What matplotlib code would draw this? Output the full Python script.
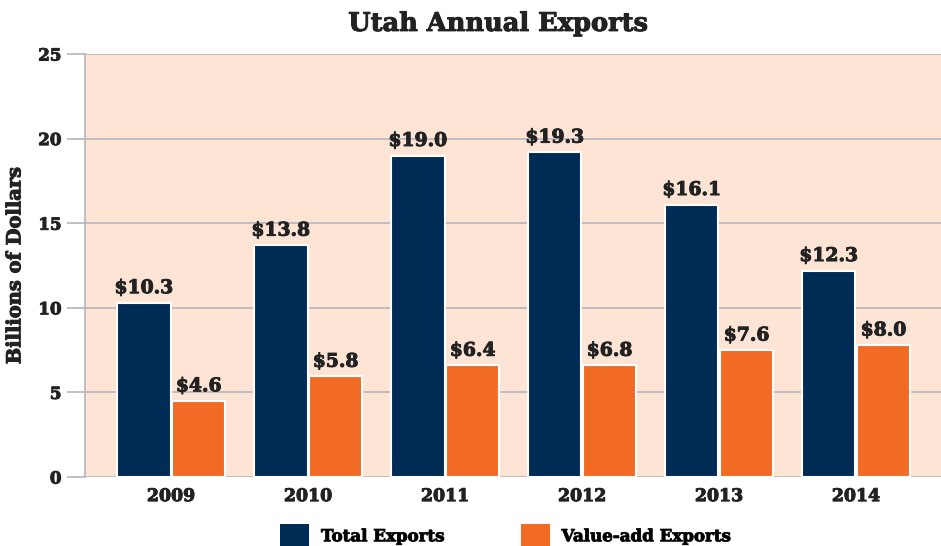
import matplotlib.pyplot as plt
import matplotlib.patheffects as pe
from matplotlib.patches import Patch

years = ['2009', '2010', '2011', '2012', '2013', '2014']
total_exports = [10.3, 13.7, 19.0, 19.2, 16.1, 12.2]
value_add_exports = [4.5, 5.95, 6.6, 6.6, 7.5, 7.8]
total_labels = ['$10.3', '$13.8', '$19.0', '$19.3', '$16.1', '$12.3']
value_add_labels = ['$4.6', '$5.8', '$6.4', '$6.8', '$7.6', '$8.0']

NAVY = '#002b55'
ORANGE = '#f26b25'
PEACH = '#fde4d4'
GRID = '#b4b4bc'
TEXT = '#222222'
FONT = 'DejaVu Serif'

plt.rcParams['font.family'] = FONT
plt.rcParams['font.weight'] = 'bold'

# thicken the text a little, the original uses a heavy slab serif
heavy = [pe.withStroke(linewidth=0.7, foreground=TEXT)]

fig = plt.figure(figsize=(9.41, 5.46), dpi=100)
ax = fig.add_axes([0.0903, 0.1264, 0.9097, 0.7747])
ax.set_facecolor(PEACH)

x = list(range(len(years)))
w = 0.39
bars1 = ax.bar([i - 0.2 for i in x], total_exports, w, color=NAVY,
               edgecolor='white', linewidth=1.5, zorder=3)
bars2 = ax.bar([i + 0.2 for i in x], value_add_exports, w, color=ORANGE,
               edgecolor='white', linewidth=1.5, zorder=3)

for bars, labels in [(bars1, total_labels), (bars2, value_add_labels)]:
    for b, lab in zip(bars, labels):
        ax.annotate(lab, (b.get_x() + b.get_width() / 2, b.get_height()),
                    xytext=(0, 4), textcoords='offset points', ha='center',
                    va='bottom', fontsize=13.5, fontweight='bold', color=TEXT,
                    path_effects=heavy)

ax.set_xlim(-0.63, 5.62)
ax.set_ylim(0, 25)
ax.set_yticks([0, 5, 10, 15, 20, 25])
ax.set_xticks(x)
ax.set_xticklabels(years)
ax.grid(axis='y', color=GRID, linewidth=1.2, zorder=0)
ax.tick_params(axis='y', length=13, color=GRID, width=1.2, pad=4,
               labelsize=12, labelcolor=TEXT)
ax.tick_params(axis='x', length=0, pad=8, labelsize=12.5, labelcolor=TEXT)
for lab in ax.get_xticklabels() + ax.get_yticklabels():
    lab.set_path_effects(heavy)
for s in ['top', 'right', 'bottom']:
    ax.spines[s].set_visible(False)
ax.spines['left'].set_color(GRID)
ax.spines['left'].set_linewidth(1.2)

ax.set_ylabel('Billions of Dollars', fontsize=14, fontweight='bold',
              color=TEXT, labelpad=10, path_effects=heavy)
fig.suptitle('Utah Annual Exports', x=0.53, y=0.98, fontsize=18.5,
             fontweight='bold', color=TEXT, path_effects=heavy)

handles = [Patch(facecolor=NAVY, label='Total Exports'),
           Patch(facecolor=ORANGE, label='Value-add Exports')]
leg = fig.legend(handles=handles, loc='lower center', bbox_to_anchor=(0.537, -0.03),
                 ncol=2, frameon=False, fontsize=12, handlelength=1.75,
                 handleheight=1.75, columnspacing=4.6, handletextpad=0.7)
for t in leg.get_texts():
    t.set_path_effects(heavy)

fig.savefig('out.png', dpi=100)
